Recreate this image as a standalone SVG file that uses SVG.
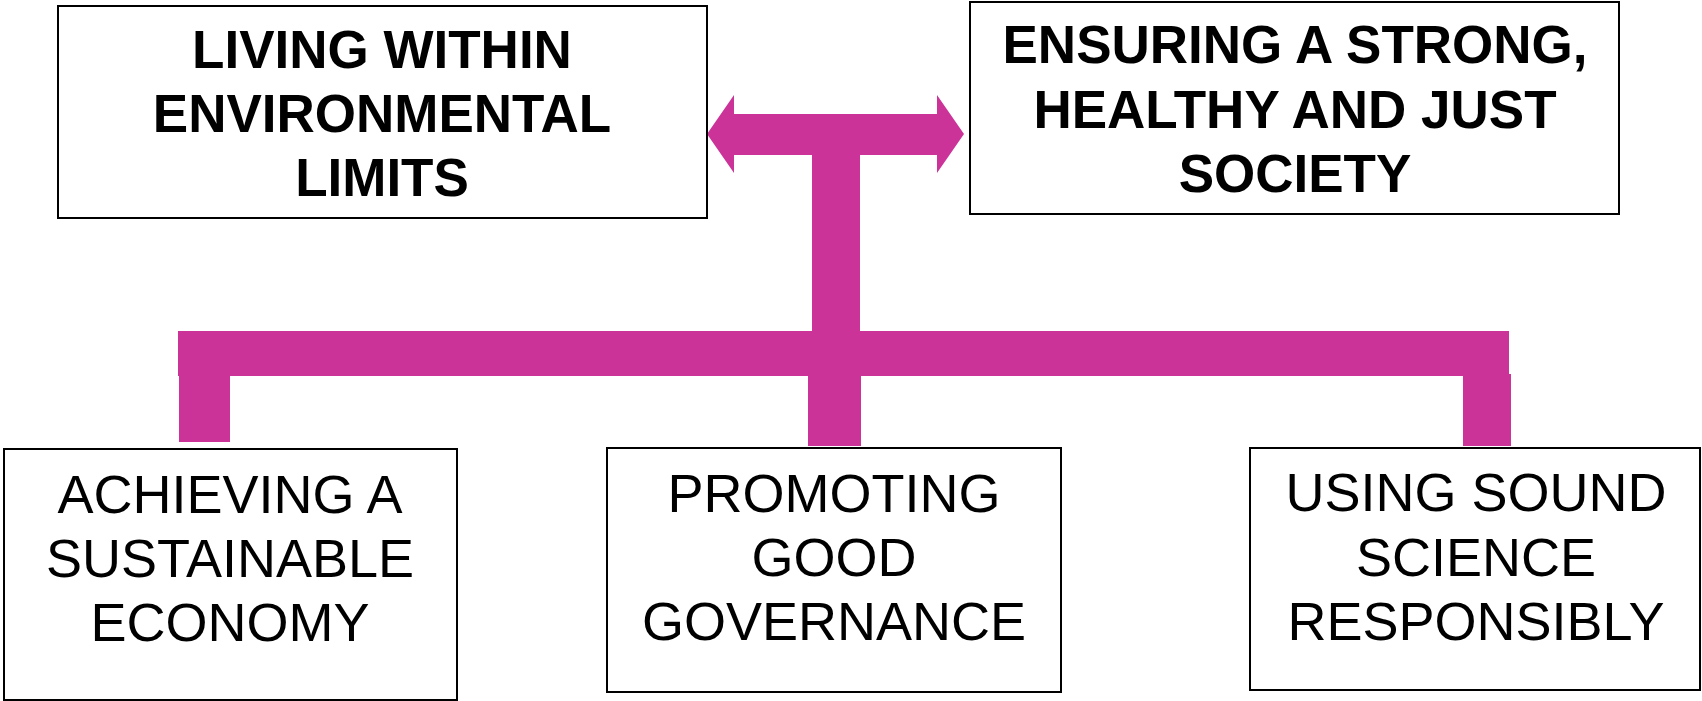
<svg xmlns="http://www.w3.org/2000/svg" width="1702" height="701" viewBox="0 0 1702 701">
<style>
.box{fill:#fff;stroke:#000;stroke-width:2}
.bar{fill:#CC3399}
.tb{font-family:"Liberation Sans",Arial,sans-serif;font-weight:bold;font-size:53px;text-anchor:middle;fill:#000}
.tr{font-family:"Liberation Sans",Arial,sans-serif;font-size:54px;text-anchor:middle;fill:#000}
</style>
<rect width="1702" height="701" fill="#fff"/>
<g id="connectors">
<polygon class="bar" points="707,134 734,95 734,114 937,114 937,95 964,134 937,173 937,155 734,155 734,173"/>
<rect class="bar" x="812" y="114" width="48" height="218"/>
<rect class="bar" x="178" y="331" width="1331" height="45"/>
<rect class="bar" x="179" y="375" width="51" height="67"/>
<rect class="bar" x="808" y="375" width="53" height="71"/>
<rect class="bar" x="1463" y="374" width="48" height="72"/>
</g>
<g id="node-living">
<rect class="box" x="58" y="6" width="649" height="212"/>
<text class="tb" x="382" y="68">LIVING WITHIN</text>
<text class="tb" x="382" y="132">ENVIRONMENTAL</text>
<text class="tb" x="382" y="196">LIMITS</text>
</g>
<g id="node-society">
<rect class="box" x="970" y="2" width="649" height="212"/>
<text class="tb" x="1295" y="63">ENSURING A STRONG,</text>
<text class="tb" x="1295" y="128">HEALTHY AND JUST</text>
<text class="tb" x="1295" y="192">SOCIETY</text>
</g>
<g id="node-economy">
<rect class="box" x="4" y="449" width="453" height="251"/>
<text class="tr" x="230" y="513">ACHIEVING A</text>
<text class="tr" x="230" y="577">SUSTAINABLE</text>
<text class="tr" x="230" y="641">ECONOMY</text>
</g>
<g id="node-governance">
<rect class="box" x="607" y="448" width="454" height="244"/>
<text class="tr" x="834" y="512">PROMOTING</text>
<text class="tr" x="834" y="576">GOOD</text>
<text class="tr" x="834" y="640">GOVERNANCE</text>
</g>
<g id="node-science">
<rect class="box" x="1250" y="448" width="450" height="242"/>
<text class="tr" x="1476" y="511">USING SOUND</text>
<text class="tr" x="1476" y="576">SCIENCE</text>
<text class="tr" x="1476" y="640">RESPONSIBLY</text>
</g>
</svg>
